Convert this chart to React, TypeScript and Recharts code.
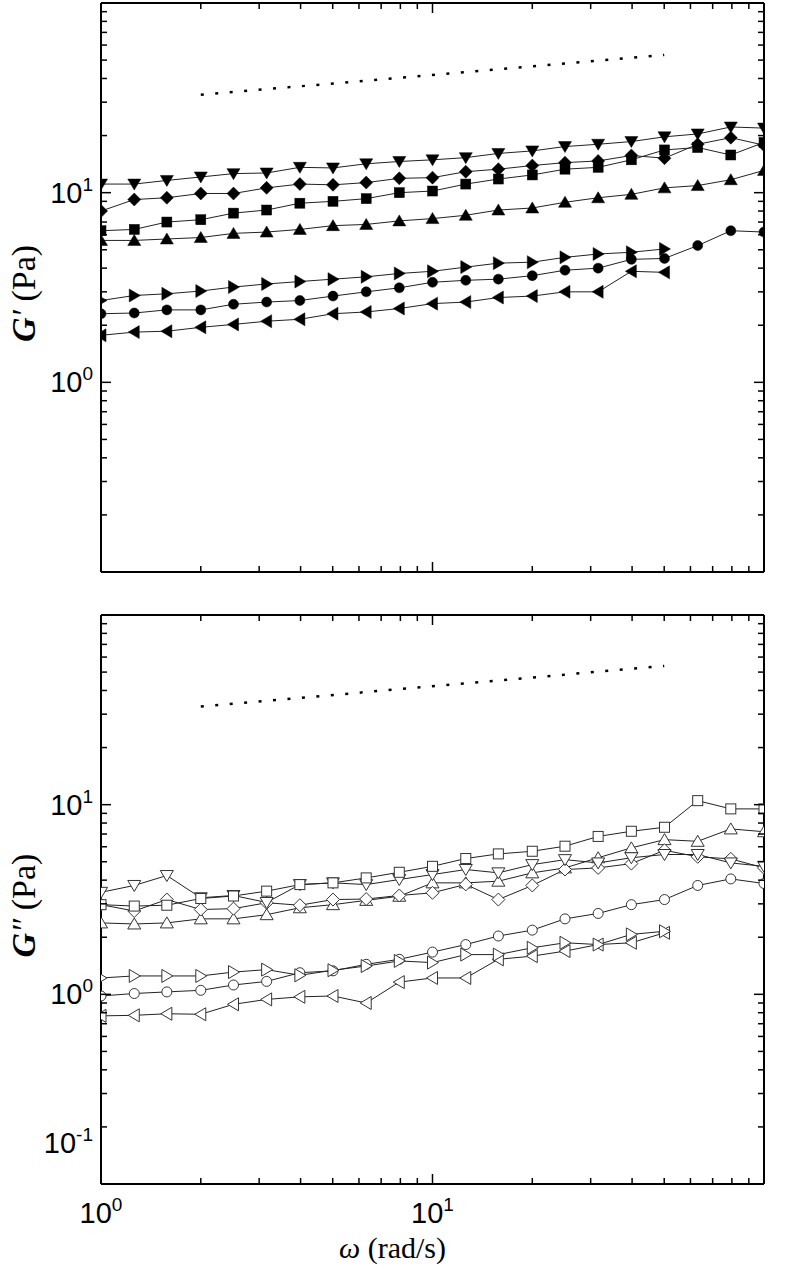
import React from 'react';
import { LineChart, Line, XAxis, YAxis } from 'recharts';

// angular frequency (rad/s), 10 points per decade
const omega = [1, 1.26, 1.58, 2, 2.51, 3.16, 3.98, 5.01, 6.31, 7.94, 10, 12.6, 15.8, 20, 25.1, 31.6, 39.8, 50.1, 63.1, 79.4, 100];

// G' (Pa), filled symbols
const gpDown = [11.1, 11.1, 11.6, 12.1, 12.6, 12.7, 13.6, 13.5, 14.2, 14.6, 14.9, 15.3, 16.1, 16.6, 17.5, 18.0, 18.6, 19.7, 20.4, 22.2, 21.9];
const gpDiamond = [8.0, 9.2, 9.4, 9.9, 9.9, 10.6, 11.1, 11.0, 11.3, 11.9, 12.0, 12.9, 13.3, 13.9, 14.4, 14.7, 15.7, 15.2, 18.0, 19.5, 17.8];
const gpSquare = [6.3, 6.4, 7.0, 7.2, 7.8, 8.1, 8.8, 9.0, 9.3, 10.0, 10.2, 11.1, 11.8, 12.4, 13.3, 13.6, 14.9, 16.8, 17.3, 15.8, 18.4];
const gpUp = [5.6, 5.6, 5.7, 5.8, 6.1, 6.2, 6.4, 6.7, 6.8, 7.1, 7.3, 7.6, 8.1, 8.3, 8.9, 9.4, 9.8, 10.6, 10.9, 11.7, 13.1];
const gpRight = [2.7, 2.87, 2.93, 3.03, 3.18, 3.3, 3.4, 3.5, 3.6, 3.75, 3.85, 4.05, 4.25, 4.3, 4.56, 4.75, 4.85, 5.05];
const gpCircle = [2.3, 2.32, 2.41, 2.41, 2.58, 2.65, 2.7, 2.85, 3.0, 3.15, 3.37, 3.45, 3.5, 3.65, 3.9, 4.0, 4.45, 4.5, 5.26, 6.3, 6.2];
const gpLeft = [1.77, 1.84, 1.86, 1.95, 2.02, 2.1, 2.15, 2.3, 2.35, 2.45, 2.6, 2.65, 2.8, 2.85, 3.0, 3.0, 3.85, 3.8];

// G'' (Pa), open symbols
const gppSquare = [2.97, 2.92, 2.95, 3.2, 3.3, 3.5, 3.79, 3.87, 4.11, 4.4, 4.73, 5.2, 5.5, 5.68, 6.04, 6.8, 7.24, 7.6, 10.5, 9.5, 9.5];
const gppDown = [3.45, 3.75, 4.23, 3.23, 3.32, 3.05, 3.79, 3.87, 3.79, 4.03, 4.28, 4.55, 4.37, 4.83, 5.13, 4.93, 5.25, 5.46, 5.46, 4.93, 4.73];
const gppDiamond = [2.97, 2.75, 3.16, 2.8, 2.83, 3.04, 2.95, 3.16, 3.18, 3.32, 3.43, 3.8, 3.16, 3.75, 4.55, 4.64, 4.89, 5.75, 5.31, 5.18, 4.64];
const gppUp = [2.38, 2.35, 2.38, 2.5, 2.5, 2.63, 2.86, 2.97, 3.13, 3.29, 3.87, 3.87, 3.95, 4.37, 4.64, 5.25, 5.92, 6.54, 6.41, 7.45, 7.2];
const gppRight = [1.22, 1.25, 1.25, 1.25, 1.31, 1.35, 1.26, 1.34, 1.41, 1.5, 1.47, 1.62, 1.62, 1.76, 1.87, 1.83, 2.07, 2.15];
const gppCircle = [0.98, 1.01, 1.03, 1.05, 1.12, 1.17, 1.3, 1.33, 1.44, 1.53, 1.67, 1.83, 2.03, 2.18, 2.5, 2.67, 2.97, 3.16, 3.75, 4.06, 3.84];
const gppLeft = [0.77, 0.775, 0.79, 0.785, 0.886, 0.94, 0.97, 0.98, 0.9, 1.16, 1.22, 1.22, 1.53, 1.59, 1.69, 1.83, 1.87, 2.11];

// power-law guide (dotted)
const guideOmega = [2, 50];
const guideTop = [32.8, 53.2];
const guideBottom = [32.9, 53.9];

const xTicks = [1, 2, 3, 4, 5, 6, 7, 8, 9, 10, 20, 30, 40, 50, 60, 70, 80, 90, 100];
const yTicks = [0.1, 0.2, 0.3, 0.4, 0.5, 0.6, 0.7, 0.8, 0.9, 1, 2, 3, 4, 5, 6, 7, 8, 9, 10, 20, 30, 40, 50, 60, 70, 80, 90, 100];
const xLabels = [1, 10];
const topYLabels = [1, 10];
const bottomYLabels = [0.1, 1, 10];

const SANS = '"Liberation Sans", Arial, sans-serif';
const SERIF = '"Liberation Serif", "Times New Roman", serif';
const AXIS_LINE = { stroke: '#000', strokeWidth: 2 };

type Shape = 'down' | 'up' | 'square' | 'diamond' | 'circle' | 'left' | 'right';

const toPoints = (vals: number[]) => vals.map((v, i) => ({ w: omega[i], v }));
const toGuide = (vals: number[]) => vals.map((v, i) => ({ w: guideOmega[i], v }));

const isMajor = (v: number) => Math.abs(Math.log10(v) - Math.round(Math.log10(v))) < 1e-6;

const Marker = ({ cx, cy, shape, filled }: { cx: number; cy: number; shape: Shape; filled: boolean }) => {
  if (cx == null || cy == null) return null;
  const st = { fill: filled ? '#000' : '#fff', stroke: filled ? '#000' : '#333', strokeWidth: filled ? 0.5 : 1 };
  switch (shape) {
    case 'circle':
      return <circle cx={cx} cy={cy} r={5} {...st} />;
    case 'square':
      return <rect x={cx - 5} y={cy - 5} width={10} height={10} {...st} />;
    case 'diamond':
      return <polygon points={`${cx},${cy - 6.5} ${cx + 6.5},${cy} ${cx},${cy + 6.5} ${cx - 6.5},${cy}`} {...st} />;
    case 'up':
      return <polygon points={`${cx},${cy - 6} ${cx + 6.5},${cy + 5} ${cx - 6.5},${cy + 5}`} {...st} />;
    case 'down':
      return <polygon points={`${cx},${cy + 6} ${cx + 6.5},${cy - 5} ${cx - 6.5},${cy - 5}`} {...st} />;
    case 'right':
      return <polygon points={`${cx + 6},${cy} ${cx - 5},${cy - 6.5} ${cx - 5},${cy + 6.5}`} {...st} />;
    default:
      return <polygon points={`${cx - 6},${cy} ${cx + 5},${cy - 6.5} ${cx + 5},${cy + 6.5}`} {...st} />;
  }
};

const Pow10 = ({ x, y, v, anchor }: { x: number; y: number; v: number; anchor: 'middle' | 'end' }) => (
  <text x={x} y={y} textAnchor={anchor} fontFamily={SANS} fontSize={29} fill="#000">
    10
    <tspan dy={-12} fontSize={19}>
      {String(Math.round(Math.log10(v)))}
    </tspan>
  </text>
);

// ticks point inward; labels only on listed majors
const makeXTick = (side: 'top' | 'bottom', labels: number[]) => (p: any) => {
  const v = p.payload.value;
  const len = isMajor(v) ? 10 : 6;
  const dir = side === 'bottom' ? -1 : 1;
  return (
    <g key={`x-${side}-${p.index}`}>
      <line x1={p.x} y1={p.y} x2={p.x} y2={p.y + dir * len} stroke="#000" strokeWidth={1.5} />
      {labels.includes(v) && <Pow10 x={p.x} y={p.y + 39} v={v} anchor="middle" />}
    </g>
  );
};

const makeYTick = (side: 'left' | 'right', labels: number[], lift = 0) => (p: any) => {
  const v = p.payload.value;
  const len = isMajor(v) ? 10 : 6;
  const dir = side === 'left' ? 1 : -1;
  const shift = labels.length && v === labels[0] ? lift : 0;
  return (
    <g key={`y-${side}-${p.index}`}>
      <line x1={p.x} y1={p.y} x2={p.x + dir * len} y2={p.y} stroke="#000" strokeWidth={1.5} />
      {labels.includes(v) && <Pow10 x={p.x - 8} y={p.y + 10 - shift} v={v} anchor="end" />}
    </g>
  );
};

const YTitle = ({ viewBox, primes }: any) => {
  const vb = viewBox || { x: 0, y: 0, width: 101, height: 569 };
  const cy = vb.y + vb.height / 2 + 6;
  return (
    <text transform={`translate(${vb.x + 35}, ${cy}) rotate(-90)`} textAnchor="middle" fontFamily={SERIF} fontSize={34} fill="#000">
      <tspan fontStyle="italic" fontWeight="bold">G</tspan>
      <tspan fontStyle="italic">{primes}</tspan>
      <tspan> (Pa)</tspan>
    </text>
  );
};

const XTitle = ({ viewBox }: any) => {
  const vb = viewBox || { x: 101, y: 584, width: 663, height: 96 };
  return (
    <text x={vb.x + vb.width / 2 - 40} y={vb.y + 74} textAnchor="middle" fontFamily={SERIF} fontSize={30} fill="#000">
      <tspan fontStyle="italic">ω</tspan>
      <tspan> (rad/s)</tspan>
    </text>
  );
};

type Series = { id: string; values: number[]; shape: Shape; filled: boolean };

const topSeries: Series[] = [
  { id: 'gpUp', values: gpUp, shape: 'up', filled: true },
  { id: 'gpSquare', values: gpSquare, shape: 'square', filled: true },
  { id: 'gpDiamond', values: gpDiamond, shape: 'diamond', filled: true },
  { id: 'gpDown', values: gpDown, shape: 'down', filled: true },
  { id: 'gpLeft', values: gpLeft, shape: 'left', filled: true },
  { id: 'gpCircle', values: gpCircle, shape: 'circle', filled: true },
  { id: 'gpRight', values: gpRight, shape: 'right', filled: true },
];

const bottomSeries: Series[] = [
  { id: 'gppUp', values: gppUp, shape: 'up', filled: false },
  { id: 'gppDiamond', values: gppDiamond, shape: 'diamond', filled: false },
  { id: 'gppDown', values: gppDown, shape: 'down', filled: false },
  { id: 'gppSquare', values: gppSquare, shape: 'square', filled: false },
  { id: 'gppLeft', values: gppLeft, shape: 'left', filled: false },
  { id: 'gppCircle', values: gppCircle, shape: 'circle', filled: false },
  { id: 'gppRight', values: gppRight, shape: 'right', filled: false },
];

type PanelProps = {
  series: Series[];
  guide: number[];
  yLabels: number[];
  lift: number;
  height: number;
  marginTop: number;
  bottomHeight: number;
  primes: string;
  showX: boolean;
};

const Panel = ({ series, guide, yLabels, lift, height, marginTop, bottomHeight, primes, showX }: PanelProps) => (
  <LineChart width={789} height={height} margin={{ top: marginTop, right: 24, bottom: 0, left: 0 }}>
    <XAxis
      xAxisId="b"
      type="number"
      dataKey="w"
      scale="log"
      domain={[1, 100]}
      allowDataOverflow
      ticks={xTicks}
      interval={0}
      tickLine={false}
      tickSize={0}
      tickMargin={0}
      height={bottomHeight}
      axisLine={AXIS_LINE}
      tick={makeXTick('bottom', showX ? xLabels : [])}
      label={showX ? { content: (lp: any) => <XTitle {...lp} /> } : undefined}
    />
    <XAxis
      xAxisId="t"
      orientation="top"
      type="number"
      dataKey="w"
      scale="log"
      domain={[1, 100]}
      allowDataOverflow
      ticks={xTicks}
      interval={0}
      tickLine={false}
      tickSize={0}
      tickMargin={0}
      height={1}
      axisLine={AXIS_LINE}
      tick={makeXTick('top', [])}
    />
    <YAxis
      yAxisId="l"
      type="number"
      scale="log"
      domain={[0.1, 100]}
      allowDataOverflow
      ticks={yTicks}
      interval={0}
      tickLine={false}
      tickSize={0}
      tickMargin={0}
      width={101}
      axisLine={AXIS_LINE}
      tick={makeYTick('left', yLabels, lift)}
      label={{ content: (lp: any) => <YTitle {...lp} primes={primes} /> }}
    />
    <YAxis
      yAxisId="r"
      orientation="right"
      type="number"
      scale="log"
      domain={[0.1, 100]}
      allowDataOverflow
      ticks={yTicks}
      interval={0}
      tickLine={false}
      tickSize={0}
      tickMargin={0}
      width={1}
      axisLine={AXIS_LINE}
      tick={makeYTick('right', [])}
    />
    <Line
      xAxisId="b"
      yAxisId="l"
      data={toGuide(guide)}
      dataKey="v"
      stroke="#000"
      strokeWidth={2.5}
      strokeDasharray="3 11.5"
      dot={false}
      activeDot={false}
      isAnimationActive={false}
    />
    {series.map((s) => (
      <Line
        key={s.id}
        xAxisId="b"
        yAxisId="l"
        data={toPoints(s.values)}
        dataKey="v"
        stroke="#222"
        strokeWidth={1}
        dot={(dp: any) => <Marker key={`${s.id}-${dp.index}`} cx={dp.cx} cy={dp.cy} shape={s.shape} filled={s.filled} />}
        activeDot={false}
        isAnimationActive={false}
      />
    ))}
  </LineChart>
);

export default function App() {
  return (
    <div style={{ position: 'absolute', left: 0, top: 0, width: 789, height: 1280, background: '#fff' }}>
      <div style={{ position: 'absolute', left: 0, top: 0 }}>
        <Panel series={topSeries} guide={guideTop} yLabels={topYLabels} lift={0} height={600} marginTop={2} bottomHeight={28} primes="′" showX={false} />
      </div>
      <div style={{ position: 'absolute', left: 0, top: 600 }}>
        <Panel series={bottomSeries} guide={guideBottom} yLabels={bottomYLabels} lift={41} height={680} marginTop={14} bottomHeight={96} primes="″" showX />
      </div>
    </div>
  );
}
